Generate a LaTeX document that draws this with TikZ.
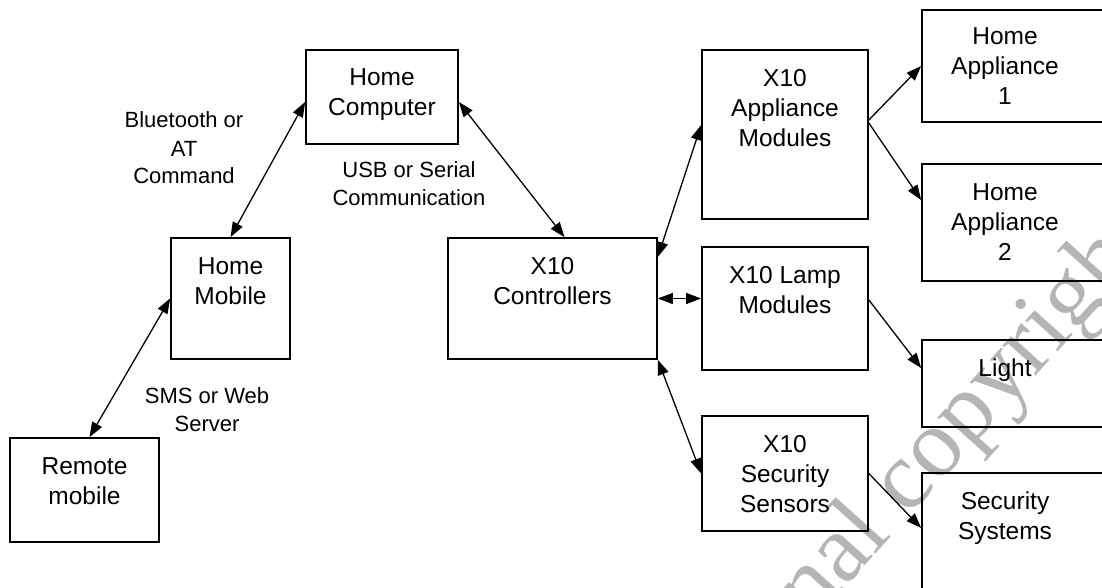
\documentclass[tikz,border=0pt]{standalone}
\usepackage{fontspec}
\setmainfont{Liberation Sans}
\newfontfamily\wmfont{Liberation Serif}
\usetikzlibrary{arrows.meta}

\tikzset{
  box/.style={draw, line width=1.7pt, inner sep=0pt},
  % captions are placed by the baseline of their last line
  boxtext/.style={anchor=base, align=center, inner sep=0pt,
    font=\fontsize{24.5pt}{30pt}\selectfont},
  linktext/.style={anchor=base, align=center, inner sep=0pt,
    font=\fontsize{22pt}{28pt}\selectfont},
  tip/.tip={Triangle[length=15pt,width=11pt]},
  link/.style={line width=1.3pt, tip-tip},
  feed/.style={line width=1.3pt, -tip},
  watermark/.style={anchor=base west, inner sep=0pt, text=black!29,
    font=\wmfont\fontsize{97pt}{97pt}\selectfont}
}

\begin{document}
\begin{tikzpicture}[x=1pt, y=-1pt]
\useasboundingbox (0,0) rectangle (1102,588);
\clip (0,0) rectangle (1102,588);

% watermark, behind everything else
\node[watermark, rotate=48] (wm) at (690,760) {original copyright};

% boxes
\node[box, minimum width=152pt, minimum height=94pt]  (hc)  at (382,97) {};
\node[box, minimum width=119pt, minimum height=121pt] (hm)  at (230.5,298.5) {};
\node[box, minimum width=149pt, minimum height=104pt] (rm)  at (84.5,490) {};
\node[box, minimum width=209pt, minimum height=121pt] (xc)  at (552.5,298.5) {};
\node[box, minimum width=166pt, minimum height=169pt] (xa)  at (785,134.5) {};
\node[box, minimum width=166pt, minimum height=123pt] (xl)  at (785,308.5) {};
\node[box, minimum width=166pt, minimum height=115pt] (xs)  at (785,473.5) {};
\node[box, minimum width=198pt, minimum height=112pt] (ha1) at (1021,66) {};
\node[box, minimum width=198pt, minimum height=117pt] (ha2) at (1021,222.5) {};
\node[box, minimum width=198pt, minimum height=87pt]  (lt)  at (1021,383.5) {};
\node[box, minimum width=198pt, minimum height=147pt] (ss)  at (1021,546.5) {};

% box captions
\node[boxtext] (hc-t)  at (382,116)   {Home\\Computer};
\node[boxtext] (hm-t)  at (230.5,304) {Home\\Mobile};
\node[boxtext] (rm-t)  at (84.5,504)  {Remote\\mobile};
\node[boxtext] (xc-t)  at (552.5,304) {X10\\Controllers};
\node[boxtext] (xa-t)  at (785,147)   {X10\\Appliance\\Modules};
\node[boxtext] (xl-t)  at (785,313)   {X10 Lamp\\Modules};
\node[boxtext] (xs-t)  at (785,512)   {X10\\Security\\Sensors};
\node[boxtext] (ha1-t) at (1005,105)  {Home\\Appliance\\1};
\node[boxtext] (ha2-t) at (1005,260)  {Home\\Appliance\\2};
\node[boxtext] (lt-t)  at (1005,376)  {Light};
\node[boxtext] (ss-t)  at (1005,539)  {Security\\Systems};

% link captions
\node[linktext] (bt)  at (184,184) {Bluetooth or\\AT\\Command};
\node[linktext] (usb) at (409,205) {USB or Serial\\Communication};
\node[linktext] (sms) at (207,431) {SMS or Web\\Server};

% two-way links
\draw[link] (hm.north) -- ([yshift=-5pt]hc.west);
\draw[link] ([yshift=-5pt]hc.east) -- ([xshift=12pt]xc.north);
\draw[link] ([xshift=5pt]rm.north) -- (hm.west);
\draw[link] ([yshift=41.5pt]xc.east) -- ([yshift=9.5pt]xa.west);
\draw[link] (xc.east) -- (xc.east -| xl.west);
\draw[link] (xc.south east) -- (xs.west);

% one-way feeds
\draw[feed] ([yshift=14.5pt]xa.east) -- (ha1.west);
\draw[feed] ([yshift=11.5pt]xa.east) -- ([yshift=22.5pt]ha2.west);
\draw[feed] ([yshift=8.5pt]xl.east) -- ([yshift=15.5pt]lt.west);
\draw[feed] (xs.east) -- ([yshift=18.5pt]ss.west);
\end{tikzpicture}
\end{document}
